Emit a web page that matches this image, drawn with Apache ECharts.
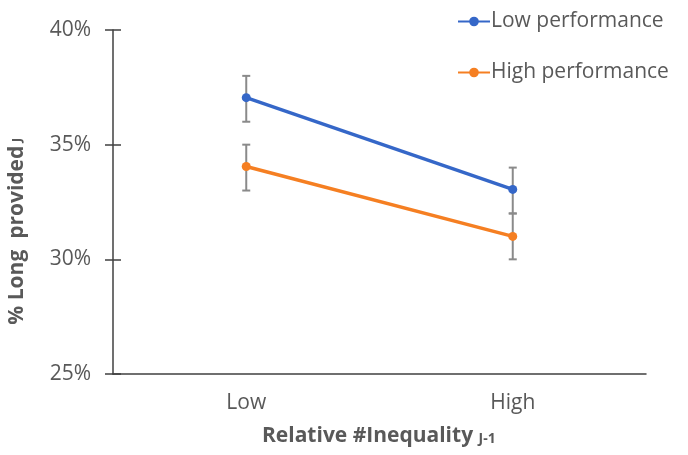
<!DOCTYPE html>
<html><head><meta charset="utf-8">
<script src="https://cdn.jsdelivr.net/npm/echarts@6/dist/echarts.min.js"></script>
<style>html,body{margin:0;padding:0;background:#fff}#c{width:688px;height:455px}</style>
</head><body><div id="c"></div>
<script>
var categories = ['Low', 'High'];
var lowPerf = [37.05, 33.05];
var lowPerfErr = [[36.0, 38.0], [32.0, 34.0]];
var highPerf = [34.05, 31.0];
var highPerfErr = [[33.0, 35.0], [30.0, 32.0]];
var yTicks = [25, 30, 35, 40];

var FONT = 'Open Sans';
var GRAY = '#595959';
var chart = echarts.init(document.getElementById('c'));

function errData(arr){ return arr.map(function(e,i){ return [i, e[0], e[1]]; }); }
function errRender(params, api){
  var lo = api.coord([api.value(0), api.value(1)]);
  var hi = api.coord([api.value(0), api.value(2)]);
  var w = 4;
  var st = {stroke:'#8a8a8a', lineWidth:2};
  return {type:'group', children:[
    {type:'line', shape:{x1:lo[0],y1:lo[1],x2:hi[0],y2:hi[1]}, style:st},
    {type:'line', shape:{x1:lo[0]-w,y1:lo[1],x2:lo[0]+w,y2:lo[1]}, style:st},
    {type:'line', shape:{x1:hi[0]-w,y1:hi[1],x2:hi[0]+w,y2:hi[1]}, style:st}
  ]};
}

chart.setOption({
  animation:false,
  grid:{left:113, right:42, top:30, bottom:81},
  legend:{
    orient:'vertical', left:452, top:6, itemGap:30, itemWidth:32, itemHeight:12,
    textStyle:{fontFamily:FONT, fontSize:21, color:GRAY, padding:[0,0,0,-4]},
    data:['Low performance','High performance']
  },
  xAxis:{
    type:'category', data:categories, boundaryGap:true,
    axisLine:{lineStyle:{color:'#404040', width:1.5}},
    axisTick:{inside:true, length:8, lineStyle:{color:'#404040', width:1.5}},
    axisLabel:{fontFamily:FONT, fontSize:21, color:GRAY, margin:19}
  },
  yAxis:[{
    type:'value', min:25, max:40, interval:5,
    axisLine:{show:true, lineStyle:{color:'#404040', width:1.5}},
    axisTick:{show:true, length:8, lineStyle:{color:'#404040', width:1.5}},
    splitLine:{show:false},
    axisLabel:{fontFamily:FONT, fontSize:21, color:GRAY, margin:22,
      formatter:function(v){ return yTicks.indexOf(v)>=0 ? v+'%' : ''; }}
  },{
    type:'value', min:25, max:40, interval:5, position:'left',
    axisLine:{show:false},
    axisTick:{show:true, inside:true, length:8, lineStyle:{color:'#404040', width:1.5}},
    splitLine:{show:false}, axisLabel:{show:false}
  }],
  graphic:[{
    type:'text', left:7, top:138, rotation:Math.PI/2,
    style:{
      text:'{a|% Long  provided}{b| J}',
      rich:{a:{fontFamily:FONT, fontSize:21, fontWeight:'bold', fill:GRAY},
            b:{fontFamily:FONT, fontSize:13, fontWeight:'bold', fill:GRAY}}
    }
  },{
    type:'text', left:262, top:426,
    style:{
      text:'{a|Relative #Inequality }{b|J-1}',
      rich:{a:{fontFamily:FONT, fontSize:21, fontWeight:'bold', fill:GRAY},
            b:{fontFamily:FONT, fontSize:14, fontWeight:'bold', fill:GRAY, padding:[5,0,0,0]}}
    }
  }],
  series:[{
    type:'custom', renderItem:errRender, data:errData(lowPerfErr), z:1, silent:true
  },{
    type:'custom', renderItem:errRender, data:errData(highPerfErr), z:1, silent:true
  },{
    name:'Low performance', type:'line', data:lowPerf, z:3,
    symbol:'circle', symbolSize:9,
    lineStyle:{color:'#3567C8', width:3.5}, itemStyle:{color:'#3567C8'}
  },{
    name:'High performance', type:'line', data:highPerf, z:3,
    symbol:'circle', symbolSize:9,
    lineStyle:{color:'#F57F22', width:3.5}, itemStyle:{color:'#F57F22'}
  }]
});
</script></body></html>
